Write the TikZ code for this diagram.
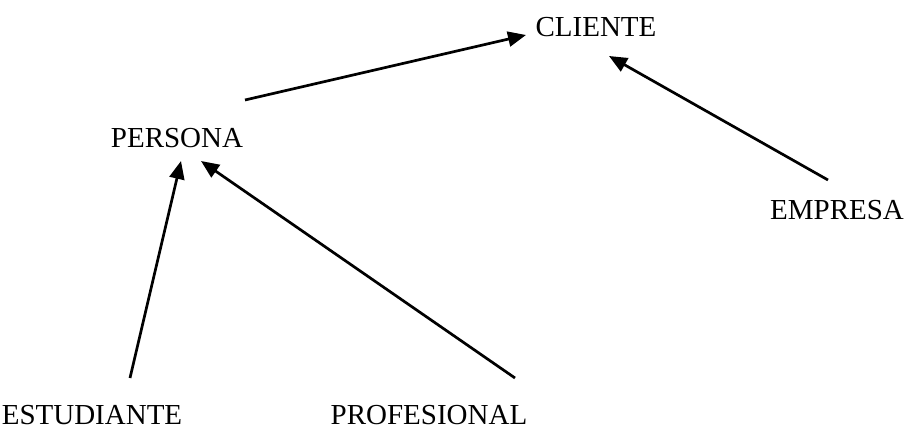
\documentclass[tikz,border=0pt]{standalone}
\usepackage{fontspec}
\setmainfont{Liberation Serif}
\usetikzlibrary{arrows.meta}
\begin{document}
\begin{tikzpicture}[x=1pt,y=-1pt,
  label/.style={font=\fontsize{29}{34}\selectfont, inner sep=0pt, anchor=base},
  link/.style={line width=2.7pt, -{Triangle[length=18pt,width=15pt]}}]
  \useasboundingbox (0,0) rectangle (915,446);
  % class names
  \node[label] (cliente) at (596,37) {CLIENTE};
  \node[label] (persona) at (177,148) {PERSONA};
  \node[label] (empresa) at (837,220) {EMPRESA};
  \node[label] (estudiante) at (92,424) {ESTUDIANTE};
  \node[label] (profesional) at (429,424) {PROFESIONAL};
  % free ends of the inheritance arrows
  \coordinate (personaOut) at (245,100);
  \coordinate (clienteInA) at (526,35);
  \coordinate (empresaOut) at (828,180);
  \coordinate (clienteInB) at (609,56);
  \coordinate (estudianteOut) at (130,378);
  \coordinate (personaInA) at (181,161);
  \coordinate (profesionalOut) at (515,378);
  \coordinate (personaInB) at (201,161);
  % arrows
  \draw[link] (personaOut) -- (clienteInA);
  \draw[link] (empresaOut) -- (clienteInB);
  \draw[link] (estudianteOut) -- (personaInA);
  \draw[link] (profesionalOut) -- (personaInB);
\end{tikzpicture}
\end{document}
